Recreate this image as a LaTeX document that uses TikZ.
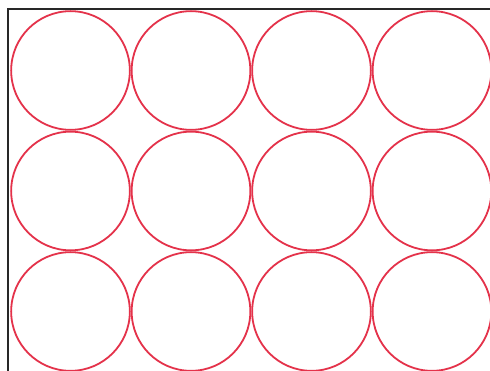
\documentclass[tikz,border=0pt]{standalone}
\usetikzlibrary{positioning}
\definecolor{ringred}{RGB}{228,50,74}
\definecolor{frameblk}{RGB}{40,40,40}
\tikzset{
  ring/.style={circle, draw=ringred, line width=1.8pt, minimum size=118.7pt, inner sep=0pt},
  frm/.style={draw=frameblk, line width=1.4pt}
}
\begin{document}
\begin{tikzpicture}[x=1pt, y=-1pt]
\useasboundingbox (0,0) rectangle (490,371);
\clip (0,0) rectangle (490,371);
\fill[white] (0,0) rectangle (490,371);
% frame
\draw[frm] (8,380) -- (8,9) -- (500,9);
% circle grid
\foreach \r in {0,1,2}
  \foreach \c in {0,1,2,3}
    \node[ring] (cell-\r-\c) at (70.5+120.5*\c, 70.5+120.5*\r) {};
\end{tikzpicture}
\end{document}
